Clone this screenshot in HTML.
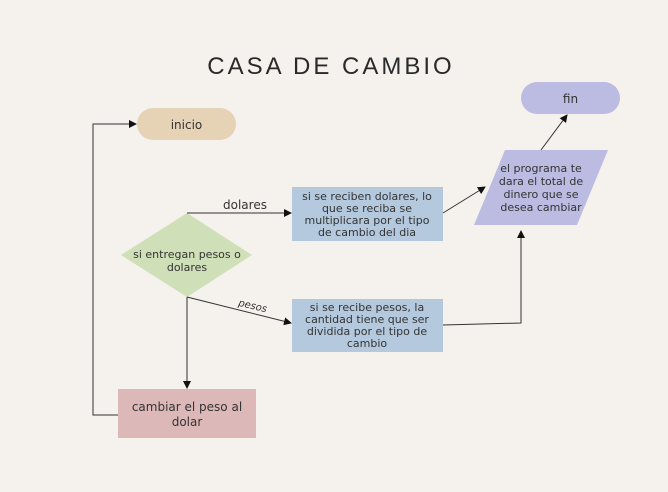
<!DOCTYPE html>
<html><head><meta charset="utf-8"><style>
html,body{margin:0;padding:0;background:#f5f2ee;}
svg{display:block;}
text{font-family:"DejaVu Sans","Liberation Sans",sans-serif;fill:#333;}
</style></head><body>
<svg width="668" height="492" viewBox="0 0 668 492" xmlns="http://www.w3.org/2000/svg">
<defs><marker id="a" markerWidth="8" markerHeight="8" refX="7" refY="4" orient="auto" markerUnits="userSpaceOnUse"><path d="M0,0 L8,4 L0,8 z" fill="#111"/></marker></defs>
<rect width="668" height="492" fill="#f5f2ee"/>
<text x="331" y="74" text-anchor="middle" style="font-family:'Liberation Sans',sans-serif;font-size:24px;fill:#2a2a2a;letter-spacing:3px">CASA DE CAMBIO</text>
<rect x="137" y="108" width="99" height="32" rx="16" fill="#e6d3b6"/>
<text x="186.5" y="129" font-size="12" text-anchor="middle">inicio</text>
<rect x="521" y="82" width="99" height="32" rx="16" fill="#bcbbe1"/>
<text x="570.5" y="103" font-size="12" text-anchor="middle">fin</text>
<polygon points="187,213 252,255 187,297 121,255" fill="#cfe0b8"/>
<text x="187" y="258" font-size="11" text-anchor="middle">si entregan pesos o</text>
<text x="187" y="271" font-size="11" text-anchor="middle">dolares</text>
<rect x="292" y="187" width="151" height="54" fill="#b4c9dd"/>
<g font-size="11" text-anchor="middle">
<text x="367" y="200">si se reciben dolares, lo</text>
<text x="367" y="212">que se reciba se</text>
<text x="367" y="224">multiplicara por el tipo</text>
<text x="367" y="236">de cambio del dia</text>
</g>
<rect x="292" y="299" width="151" height="53" fill="#b4c9dd"/>
<g font-size="11" text-anchor="middle">
<text x="367" y="311">si se recibe pesos, la</text>
<text x="367" y="323">cantidad tiene que ser</text>
<text x="367" y="335">dividida por el tipo de</text>
<text x="367" y="347">cambio</text>
</g>
<polygon points="505,150 608,150 577,225 474,225" fill="#bcbbe1"/>
<g font-size="11" text-anchor="middle">
<text x="541" y="172">el programa te</text>
<text x="541" y="185">dara el total de</text>
<text x="541" y="198">dinero que se</text>
<text x="541" y="211">desea cambiar</text>
</g>
<rect x="118" y="389" width="138" height="49" fill="#dcb8b8"/>
<text x="187" y="411" font-size="12" text-anchor="middle">cambiar el peso al</text>
<text x="187" y="426" font-size="12" text-anchor="middle">dolar</text>
<g stroke="#333" stroke-width="1" fill="none">
<path d="M187,213 L291,213" marker-end="url(#a)"/>
<path d="M187,297 L291,323" marker-end="url(#a)"/>
<path d="M187,297 L187,388" marker-end="url(#a)"/>
<path d="M118,415 L93,415 L93,124 L136,124" marker-end="url(#a)"/>
<path d="M443,213 L485,187" marker-end="url(#a)"/>
<path d="M443,325 L521,323 L521,231" marker-end="url(#a)"/>
<path d="M541,150 L567,115" marker-end="url(#a)"/>
</g>
<text x="245" y="209" font-size="12" text-anchor="middle">dolares</text>
<text x="252" y="309" font-size="10" font-style="italic" text-anchor="middle" transform="rotate(13 252 309)">pesos</text>
</svg>
</body></html>
